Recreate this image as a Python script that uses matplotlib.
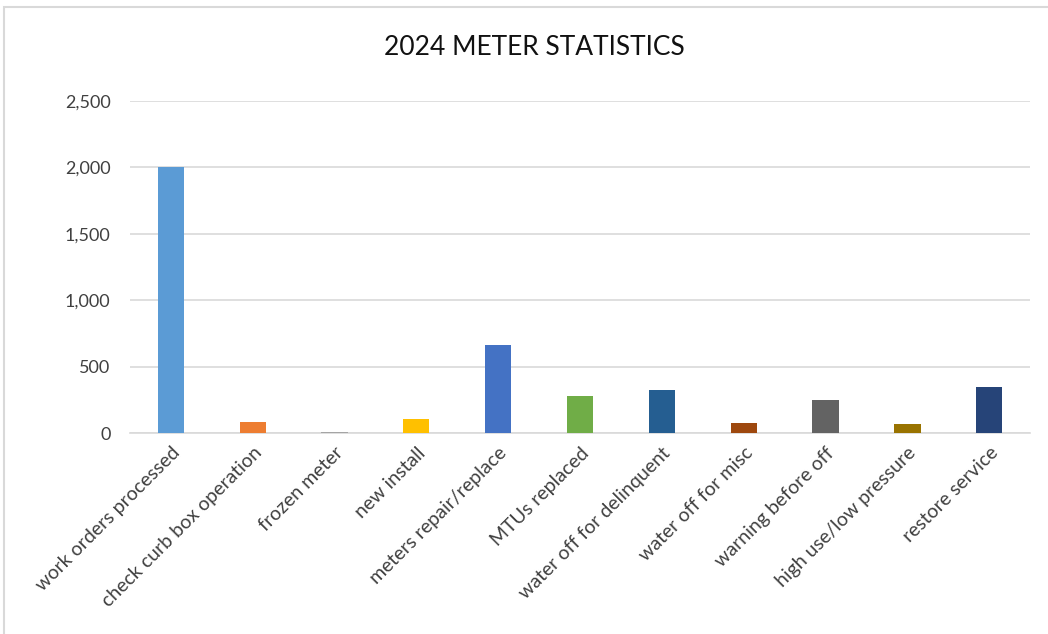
import matplotlib.pyplot as plt
from matplotlib.patches import Rectangle
from matplotlib.ticker import FuncFormatter

categories = ["work orders processed", "check curb box operation", "frozen meter",
              "new install", "meters repair/replace", "MTUs replaced",
              "water off for delinquent", "water off for misc", "warning before off",
              "high use/low pressure", "restore service"]
values = [2000, 86, 10, 108, 661, 275, 320, 78, 245, 70, 343]
colors = ["#5B9BD5", "#ED7D31", "#A5A5A5", "#FFC000", "#4472C4", "#70AD47",
          "#255E91", "#9E480E", "#636363", "#997300", "#264478"]

plt.rcParams['font.family'] = ['Lato', 'DejaVu Sans']

fig = plt.figure(figsize=(10.48, 6.34), dpi=100)
ax = fig.add_axes([0.124, 0.317, 0.859, 0.524])

x = range(len(categories))
ax.bar(x, values, width=0.32, color=colors, zorder=3)

ax.set_xlim(-0.5, len(categories) - 0.5)
ax.set_ylim(0, 2500)
ax.set_yticks(range(0, 2501, 500))
ax.yaxis.set_major_formatter(FuncFormatter(lambda v, p: f"{int(v):,}"))
ax.grid(axis='y', color='#D9D9D9', linewidth=1.2, zorder=0)
for s in ['top', 'right', 'left']:
    ax.spines[s].set_visible(False)
ax.spines['bottom'].set_color('#D9D9D9')
ax.spines['bottom'].set_linewidth(1.2)
ax.tick_params(axis='both', length=0, colors='#404040')
ax.tick_params(axis='y', pad=14, labelsize=13)
ax.set_xticks(list(x))
ax.set_xticklabels(categories, rotation=45, ha='right', rotation_mode='anchor')
ax.tick_params(axis='x', pad=8, labelsize=14)

fig.text(0.51, 0.925, "2024 METER STATISTICS", ha='center', va='center',
         fontsize=19, color='#111111')

fig.patches.append(Rectangle((4 / 1048, -0.1), 1.2, (634 - 7) / 634 + 0.1,
                             transform=fig.transFigure, fill=False,
                             edgecolor='#D9D9D9', linewidth=1.5))

fig.savefig("out.png", dpi=100)
